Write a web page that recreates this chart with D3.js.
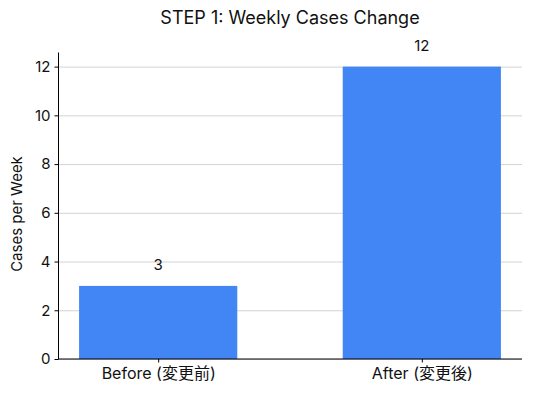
<!DOCTYPE html>
<html>
<head>
<meta charset="utf-8">
<script src="https://cdn.jsdelivr.net/npm/d3@7"></script>
<style>
  body { margin: 0; background: #fff; }
  text { font-family: Inter, Roboto, "Noto Sans", "Noto Sans CJK JP", sans-serif; fill: #111; }
  .grid line { stroke: #c8c8c8; stroke-width: 0.8; }
  .grid .domain { display: none; }
</style>
</head>
<body>
<svg id="chart" width="533" height="396"></svg>
<script>
// Data
const categories = ["Before (変更前)", "After (変更後)"];
const cases = [3, 12];
const yTicks = [0, 2, 4, 6, 8, 10, 12];

// Chart size
const margin = {top: 52, right: 11, bottom: 37, left: 58};
const svg = d3.select("#chart"),
      width = +svg.attr("width"),
      height = +svg.attr("height"),
      innerWidth = width - margin.left - margin.right,
      innerHeight = height - margin.top - margin.bottom;

const g = svg.append("g")
  .attr("transform", `translate(${margin.left},${margin.top})`);

// Scales (matplotlib-like: bar width 0.6, 5% margins)
const x = d3.scaleLinear().domain([-0.38, 1.38]).range([0, innerWidth]);
const y = d3.scaleLinear().domain([0, 12.6]).range([innerHeight, 0]);
const barWidth = 0.6;

// Gridlines
const grid = g.append("g")
  .attr("class", "grid")
  .call(d3.axisLeft(y).tickValues(yTicks).tickSize(-innerWidth).tickFormat(""));
grid.selectAll("text").remove();

// Bars
g.selectAll(".bar")
  .data(cases)
  .enter()
  .append("rect")
  .attr("class", "bar")
  .attr("x", (d, i) => x(i - barWidth / 2))
  .attr("width", (d, i) => x(i + barWidth / 2) - x(i - barWidth / 2))
  .attr("y", d => y(d))
  .attr("height", d => innerHeight - y(d))
  .attr("fill", "#4285F4");

// Value labels
g.selectAll(".value")
  .data(cases)
  .enter()
  .append("text")
  .attr("class", "value")
  .attr("x", (d, i) => x(i))
  .attr("y", d => y(d) - 16)
  .attr("text-anchor", "middle")
  .style("font-size", "15px")
  .text(d => d);

// Axes
const yAxis = g.append("g")
  .call(d3.axisLeft(y).tickValues(yTicks).tickSize(3.5).tickPadding(4).tickSizeOuter(0));
const xAxis = g.append("g")
  .attr("transform", `translate(0,${innerHeight})`)
  .call(d3.axisBottom(x).tickValues([0, 1]).tickFormat(i => categories[i]).tickSize(3.5).tickPadding(5).tickSizeOuter(0));

[yAxis, xAxis].forEach(a => {
  a.select(".domain").attr("stroke", "#000").attr("stroke-width", 1);
  a.selectAll(".tick line").attr("stroke", "#000");
  a.selectAll("text").style("font-size", "15px").attr("fill", "#111");
});
xAxis.select(".domain").attr("d", `M0,0H${innerWidth}`);
xAxis.selectAll("text").style("font-size", "16px");

// Axis label
svg.append("text")
  .attr("transform", `translate(22,214) rotate(-90)`)
  .attr("text-anchor", "middle")
  .style("font-size", "15px")
  .text("Cases per Week");

// Title
svg.append("text")
  .attr("x", margin.left + innerWidth / 2)
  .attr("y", 24)
  .attr("text-anchor", "middle")
  .style("font-size", "18px")
  .text("STEP 1: Weekly Cases Change");
</script>
</body>
</html>
